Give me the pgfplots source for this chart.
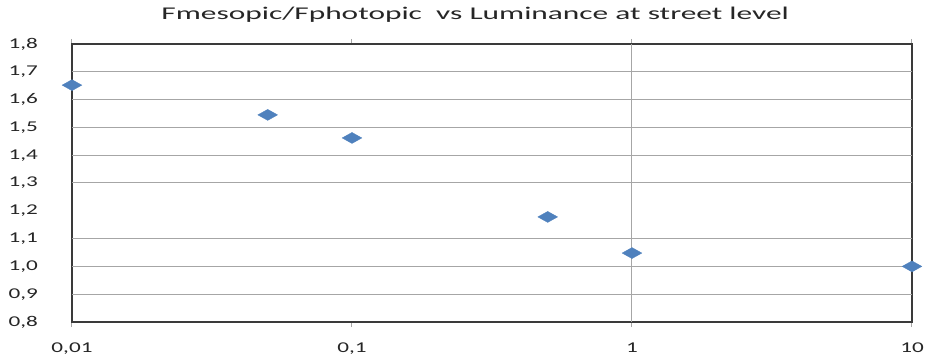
\documentclass[border=0pt]{standalone}
\usepackage{fontspec}
\setmainfont{Carlito}[FakeStretch=1.55]
\newfontfamily\titlefont{Carlito}[FakeStretch=1.75]
\usepackage{pgfplots}
\pgfplotsset{compat=1.18}
\definecolor{markblue}{HTML}{4F81BD}
\definecolor{gridgray}{HTML}{A6A6A6}
\definecolor{framegray}{HTML}{3A3A3A}
\definecolor{labeltext}{HTML}{262626}

\begin{document}
\begin{tikzpicture}
\begin{axis}[
  at={(0,0)}, anchor=south west,
  scale only axis, width=840bp, height=278bp,
  xmode=log, xmin=0.01, xmax=10, ymin=0.8, ymax=1.8,
  clip=false,
  axis line style={draw=framegray, line width=1.3bp},
  xtick={0.01,0.1,1,10},
  xticklabels={{0,01},{0,1},{1},{10}},
  xminorticks=false,
  ytick={0.8,0.9,1.0,1.1,1.2,1.3,1.4,1.5,1.6,1.7,1.8},
  yticklabels={{0,8},{0,9},{1,0},{1,1},{1,2},{1,3},{1,4},{1,5},{1,6},{1,7},{1,8}},
  tick align=outside,
  major tick length=5bp,
  xtick style={draw=gridgray, line width=1bp},
  ytick style={draw=none},
  extra y ticks={0.9,1.0,1.1,1.3,1.4,1.5,1.6,1.7},
  extra y tick labels={},
  extra y tick style={grid=major, major tick length=0pt},
  extra x ticks={1},
  extra x tick labels={},
  extra x tick style={grid=major, major tick length=0pt},
  major grid style={draw=gridgray, line width=1bp},
  tick label style={font=\fontsize{15}{18}\selectfont, text=labeltext},
  yticklabel style={anchor=east, inner sep=0pt, xshift=-29bp},
  xticklabel style={anchor=base, inner sep=0pt, yshift=-25bp},
  title={Fmesopic/Fphotopic\ \ vs Luminance at street level},
  title style={font=\titlefont\fontsize{18}{21}\selectfont, text=labeltext,
               at={(0.48,1)}, anchor=base, yshift=19bp, inner sep=0pt},
]
\addplot[only marks, mark=diamond*, mark size=5.5bp,
         mark options={xscale=2.4, fill=markblue, draw=markblue, line width=0.3bp}]
  coordinates {
    (0.01,1.652)
    (0.05,1.545)
    (0.1,1.462)
    (0.5,1.178)
    (1,1.048)
    (10,1.0)
  };
\end{axis}
\path (-72bp,-34bp) rectangle (854bp,322bp);
\end{tikzpicture}
\end{document}
